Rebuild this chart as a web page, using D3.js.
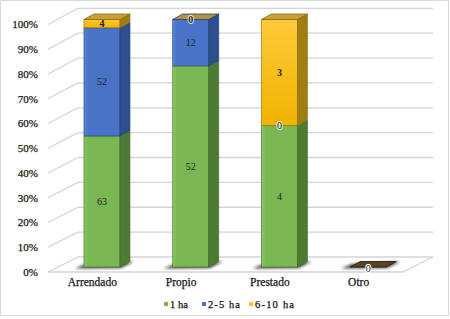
<!DOCTYPE html>
<html><head><meta charset="utf-8">
<script src="https://cdn.jsdelivr.net/npm/d3@7/dist/d3.min.js"></script>
<style>body{margin:0;background:#fff} text{font-family:'Liberation Serif','DejaVu Serif',serif}</style>
</head><body><svg id="c" width="450" height="319"></svg>
<script>
const categories = ["Arrendado", "Propio", "Prestado", "Otro"];
const seriesNames = ["1 ha", "2-5 ha", "6-10 ha"];
const s1ha = [63, 52, 4, 0];
const s25ha = [52, 12, 0, 0];
const s610ha = [4, 0, 3, 0];
const tickLabels = ["0%","10%","20%","30%","40%","50%","60%","70%","80%","90%","100%"];
const tickValues = [0,0.1,0.2,0.3,0.4,0.5,0.6,0.7,0.8,0.9,1];

const FONT = "'Liberation Serif','DejaVu Serif',serif";
const TXT = "#151515";
const colors = [
  {front:"#79b752", light:"#8cc866", side:"#4e7b34", top:"#6aa548", stroke:"#3d6b22"},
  {front:"#4873c6", light:"#5a86d6", side:"#2f4e8c", top:"#3d63ad", stroke:"#1f3d7a"},
  {front:"#fbc324", light:"#ffd24a", side:"#a17e12", top:"#c9a038", stroke:"#8a6a10"}
];

const svg = d3.select("#c");
const defs = svg.append("defs");
colors.forEach((c,i)=>{
  const g = defs.append("linearGradient").attr("id","gf"+i).attr("x1","0").attr("x2","1").attr("y1","0").attr("y2","0");
  g.append("stop").attr("offset","0").attr("stop-color",c.light);
  g.append("stop").attr("offset","0.12").attr("stop-color",c.front);
  g.append("stop").attr("offset","1").attr("stop-color",c.front);
});
const gy = defs.append("linearGradient").attr("id","gy").attr("x1","0").attr("x2","0").attr("y1","0").attr("y2","1");
gy.append("stop").attr("offset","0").attr("stop-color","#ffc93a");
gy.append("stop").attr("offset","1").attr("stop-color","#efb400");
defs.append("filter").attr("id","blur").attr("x","-50%").attr("y","-50%").attr("width","200%").attr("height","200%")
  .append("feGaussianBlur").attr("stdDeviation","1.6");

// border
svg.append("rect").attr("x",0.5).attr("y",0.5).attr("width",448).attr("height",315)
  .attr("fill","none").attr("stroke","#d9d9d9").attr("stroke-width",1);

// scales
const xFront = d3.scaleBand().domain(categories).range([48,403]);
const yLab = d3.scaleLinear().domain([0,1]).range([272,24.5]);
const yBack = d3.scaleLinear().domain([0,1]).range([257,8.3]);
const yBar = d3.scaleLinear().domain([0,1]).range([267,19.5]);
const backDx = 30;
const barOffX = 9.6, barW = 36, depthX = 10, depthY = -5.5;

// back wall gridlines and left wall diagonals
const grid = svg.append("g").attr("stroke","#d4d4d4").attr("stroke-width",1.3).attr("fill","none");
tickValues.forEach(v=>{
  grid.append("line").attr("x1",48).attr("y1",yLab(v)).attr("x2",48+backDx).attr("y2",yBack(v));
  grid.append("line").attr("x1",48+backDx).attr("y1",yBack(v)).attr("x2",403+backDx).attr("y2",yBack(v));
});
grid.append("line").attr("x1",48).attr("y1",yLab(0)).attr("x2",403).attr("y2",yLab(0));
grid.append("line").attr("x1",403).attr("y1",yLab(0)).attr("x2",403+backDx).attr("y2",yBack(0));

function styleText(sel){
  return sel.attr("font-family",FONT).attr("fill",TXT).attr("stroke",TXT).attr("stroke-width",0.25);
}

// y tick labels
styleText(svg.append("g").selectAll("text").data(tickValues).join("text")
  .attr("x",38).attr("y",v=>yLab(v)).attr("dy","0.35em").attr("text-anchor","end")
  .attr("font-size",11).text((v,i)=>tickLabels[i]));

// category labels
styleText(svg.append("g").selectAll("text").data(categories).join("text")
  .attr("x",d=>xFront(d)+xFront.bandwidth()/2).attr("y",282).attr("dy","0.35em").attr("text-anchor","middle")
  .attr("font-size",11.5).text(d=>d));

// bars
const series = [s1ha, s25ha, s610ha];
const bars = svg.append("g");
categories.forEach((cat,ci)=>{
  const total = series.reduce((a,s)=>a+s[ci],0);
  const x0 = xFront(cat)+xFront.bandwidth()/2 + barOffX - barW/2;
  const x1 = x0 + barW;
  const yb = yBar(0);
  // shadow
  bars.append("path").attr("filter","url(#blur)").attr("fill","#000").attr("opacity",0.75)
    .attr("d",`M${x0-9},${yb+1.5} L${x0+2},${yb-3} L${x1+depthX+4},${yb+depthY} L${x1+1},${yb+1} Z`);
  if (total===0){
    bars.append("path").attr("fill","#5b4420").attr("stroke","#1e1608").attr("stroke-width",0.8)
      .attr("d",`M${x0},${yb} L${x0+depthX},${yb+depthY} L${x1+depthX},${yb+depthY} L${x1},${yb} Z`);
    bars.append("text").attr("x",(x0+x1)/2).attr("y",yb+1).attr("dy","0.35em").attr("text-anchor","middle")
      .attr("font-family",FONT).attr("font-size",10).attr("fill","#222").attr("stroke","#fff").attr("stroke-width",2).attr("paint-order","stroke").text("0");
    return;
  }
  let cum = 0;
  const segs = series.map((s,si)=>{const a=cum; cum+=s[ci]/total; return {si, v:s[ci], a, b:cum};});
  segs.forEach(sg=>{
    const c = colors[sg.si];
    const ya = yBar(sg.a), ybb = yBar(sg.b);
    if (sg.b>sg.a){
      bars.append("rect").attr("x",x0).attr("y",ybb).attr("width",barW).attr("height",ya-ybb)
        .attr("fill", sg.si===2 ? "url(#gy)" : `url(#gf${sg.si})`).attr("stroke",c.stroke).attr("stroke-width",0.6);
      bars.append("path").attr("fill",c.side).attr("stroke",c.stroke).attr("stroke-width",0.6)
        .attr("d",`M${x1},${ya} L${x1+depthX},${ya+depthY} L${x1+depthX},${ybb+depthY} L${x1},${ybb} Z`);
    }
  });
  // top face
  const last = segs[segs.length-1];
  const yt = yBar(1);
  const topColor = last.v>0 ? colors[2].top : "#b89238";
  bars.append("path").attr("fill",topColor).attr("stroke", last.v>0 ? colors[2].stroke : "#1f3d7a").attr("stroke-width",0.8)
    .attr("d",`M${x0},${yt} L${x0+depthX},${yt+depthY} L${x1+depthX},${yt+depthY} L${x1},${yt} Z`);
  // labels
  segs.forEach(sg=>{
    const ym = yBar((sg.a+sg.b)/2);
    bars.append("text").attr("x",(x0+x1)/2).attr("y",ym).attr("dy","0.35em").attr("text-anchor","middle")
      .attr("font-family",FONT).attr("font-size",10).attr("fill","#222")
      .attr("stroke", sg.v===0 ? "#fff" : "none").attr("stroke-width",2).attr("stroke-opacity",0.8).attr("paint-order","stroke")
      .attr("font-weight", sg.si===2 ? "bold" : "normal")
      .text(sg.v);
  });
});

// legend
const legX = [164, 202, 249];
const legW = [18, 32, 39];
const lg = svg.append("g");
seriesNames.forEach((n,i)=>{
  lg.append("rect").attr("x",legX[i]).attr("y",302).attr("width",4).attr("height",4).attr("fill",colors[i].front);
  styleText(lg.append("text").attr("x",legX[i]+6).attr("y",304).attr("dy","0.35em")
    .attr("font-size",10.5).attr("textLength",legW[i]).attr("lengthAdjust","spacing").text(n));
});
</script></body></html>
